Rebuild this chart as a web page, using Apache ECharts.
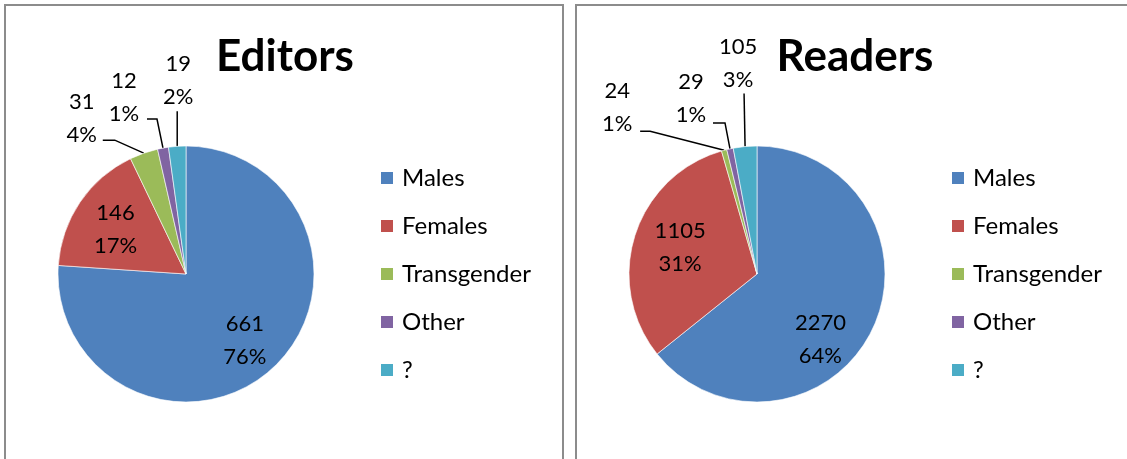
<!DOCTYPE html>
<html><head><meta charset="utf-8">
<script src="https://cdn.jsdelivr.net/npm/echarts@6/dist/echarts.min.js"></script>
<style>
html,body{margin:0;padding:0;background:#fff;overflow:hidden;width:1127px;height:459px}
.panel{position:absolute;border:2px solid #8c8c8c;box-sizing:border-box}
#chart{position:absolute;left:0;top:0;width:1127px;height:459px}
</style></head><body>
<div class="panel" style="left:4px;top:4px;width:560px;height:480px"></div>
<div class="panel" style="left:575px;top:4px;width:580px;height:480px"></div>
<div id="chart"></div>
<script>
// ---- data ----
const categories = ['Males', 'Females', 'Transgender', 'Other', '?'];
const editorsValues = [661, 146, 31, 12, 19];
const readersValues = [2270, 1105, 24, 29, 105];
const chartTitles = ['Editors', 'Readers'];

// ---- styles ----
const colors = ['#4F81BD', '#C0504D', '#9BBB59', '#8064A2', '#4BACC6'];
const FONT = 'Lato, "Open Sans", sans-serif';
// label placement tweaks (offsets relative to slice anchor / default position)
const labelPlacement = [
  [ {inside: true, dx: 13, dy: 17}, {inside: true, dx: -15, dy: -7},
    {lx: -62, ly: -35, bend: [-29, -13], end: [-41, -13]},
    {lx: -39, ly: -51, bend: [-6, -29], end: [-16, -29]},
    {lx: 1, ly: -66, bend: [0, -35], end: [0, -35]} ],
  [ {inside: true, dx: 3, dy: 36}, {inside: true, dx: -13, dy: -6},
    {lx: -107, ly: -43, bend: [-74, -19], end: [-84, -19]},
    {lx: -39, ly: -50, bend: [-5, -26], end: [-17, -26]},
    {lx: -7, ly: -83, bend: [-1, -53], end: [-1, -53]} ]
];

function buildData(values, si) {
  return categories.map((name, i) => {
    const pl = labelPlacement[si][i];
    return {
      name: name,
      value: values[i],
      label: { position: pl.inside ? 'inside' : 'outside' },
      labelLine: { show: !pl.inside }
    };
  });
}

function makeLayout(si) {
  return function (p) {
    const pl = labelPlacement[si][p.dataIndex];
    if (!pl) return {};
    if (pl.inside) return { dx: pl.dx, dy: pl.dy };
    const pts = p.labelLinePoints;
    if (!pts || !pts[0]) return {};
    const a = pts[0];
    return {
      x: a[0] + pl.lx,
      y: a[1] + pl.ly,
      align: 'center',
      verticalAlign: 'middle',
      labelLinePoints: [
        [a[0], a[1]],
        [a[0] + pl.bend[0], a[1] + pl.bend[1]],
        [a[0] + pl.end[0], a[1] + pl.end[1]]
      ]
    };
  };
}

const pieCenters = [[186, 274], [757, 274]];

function makeSeries(values, si) {
  return {
    type: 'pie',
    name: chartTitles[si],
    center: pieCenters[si],
    radius: 128,
    startAngle: 90,
    clockwise: true,
    avoidLabelOverlap: false,
    percentPrecision: 0,
    animation: false,
    itemStyle: { borderColor: '#ffffff', borderWidth: 0.6 },
    label: {
      show: true,
      formatter: '{c}\n{d}%',
      color: '#000',
      fontFamily: FONT,
      fontSize: 22,
      lineHeight: 33,
      align: 'center'
    },
    labelLine: { show: true, lineStyle: { color: '#000', width: 1.5 } },
    emphasis: { disabled: true },
    labelLayout: makeLayout(si),
    data: buildData(values, si)
  };
}

const legendBase = {
  orient: 'vertical',
  top: 166,
  padding: 0,
  icon: 'rect',
  itemWidth: 14,
  itemHeight: 14,
  itemGap: 24,
  selectedMode: false,
  data: categories,
  textStyle: { fontFamily: FONT, fontSize: 24, color: '#000', lineHeight: 24, padding: [0, 0, 0, 3] }
};

const chart = echarts.init(document.getElementById('chart'), null, { renderer: 'canvas' });
chart.setOption({
  color: colors,
  animation: false,
  title: [
    { text: chartTitles[0], left: 285, top: 32, textAlign: 'center', padding: 0,
      textStyle: { fontFamily: FONT, fontWeight: 'bold', fontSize: 44, color: '#000', lineHeight: 50 } },
    { text: chartTitles[1], left: 855, top: 32, textAlign: 'center', padding: 0,
      textStyle: { fontFamily: FONT, fontWeight: 'bold', fontSize: 44, color: '#000', lineHeight: 50 } }
  ],
  legend: [
    Object.assign({}, legendBase, { left: 379 }),
    Object.assign({}, legendBase, { left: 950 })
  ],
  series: [makeSeries(editorsValues, 0), makeSeries(readersValues, 1)]
});
</script>
</body></html>
